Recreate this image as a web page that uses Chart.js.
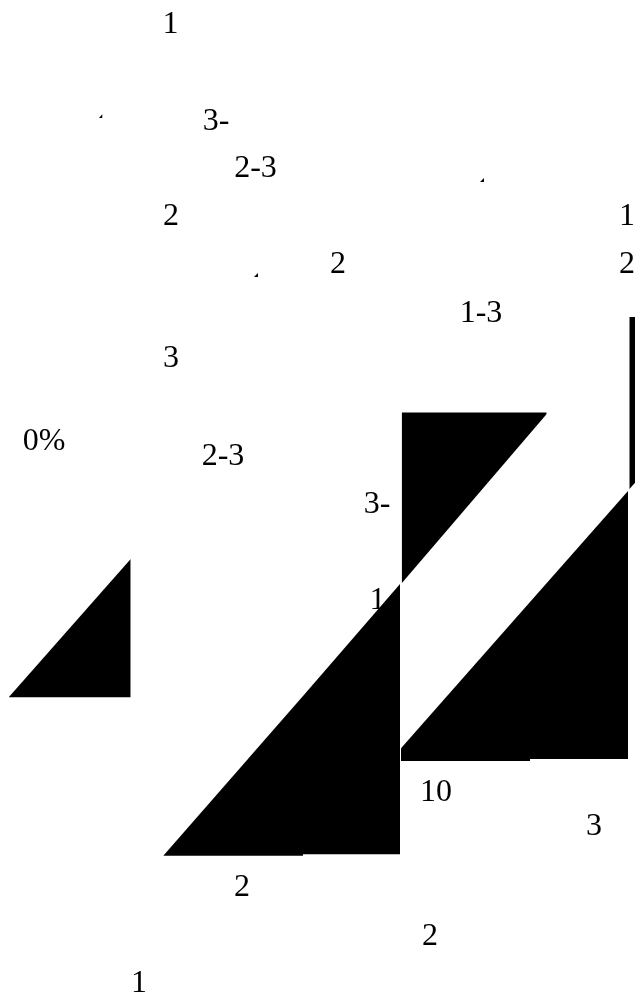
<!DOCTYPE html>
<html>
<head>
<meta charset="utf-8">
<script src="https://cdn.jsdelivr.net/npm/chart.js@4"></script>
<style>
  html, body { margin: 0; padding: 0; background: #ffffff; }
  canvas { display: block; }
</style>
</head>
<body>
<canvas id="c" width="635" height="1003"></canvas>
<script>
// Filled wedges: a slanted edge from (x1,y1) to (x2,y2), filled to a level
const wedgeX1   = [8.7,   163.3, 303,   401.7, 401,   530,   629.3, 99,    480, 254];
const wedgeY1   = [697.3, 855.7, 696,   583.3, 748.3, 602,   489.3, 118,   182, 277];
const wedgeX2   = [130.7, 303,   400,   546.7, 530,   628,   700,   102.5, 484, 258];
const wedgeY2   = [559,   696,   584,   414,   602,   491,   409,   114,   178, 273];
const wedgeBase = [697.3, 855.7, 854.3, 412.5, 761,   759,   317,   118,   182, 277];

// Scattered text labels
const labelText = ["1", "3-", "2-3", "2", "1", "2", "2", "1-3", "3", "0%", "2-3", "3-", "1", "10", "3", "2", "2", "1"];
const labelX    = [170.5, 216, 255.5, 171, 627, 338, 627, 481, 171, 44, 223, 377, 377.6, 436, 594, 242, 430, 139];
const labelY    = [33, 130, 177, 225, 225, 273, 273, 322, 367, 450, 465, 513, 609, 801, 835, 896, 945, 992];

const datasets = wedgeX1.map((x1, i) => ({
  data: [{ x: x1, y: wedgeY1[i] }, { x: wedgeX2[i], y: wedgeY2[i] }],
  showLine: true,
  fill: { value: wedgeBase[i] },
  backgroundColor: '#000000',
  borderColor: '#000000',
  borderWidth: 0,
  pointRadius: 0,
  tension: 0
}));

const labelPlugin = {
  id: 'labels',
  afterDatasetsDraw(chart) {
    const ctx = chart.ctx;
    const xs = chart.scales.x, ys = chart.scales.y;
    ctx.save();
    ctx.font = '32px "Liberation Serif", "Times New Roman", serif';
    ctx.fillStyle = '#000000';
    ctx.textAlign = 'center';
    ctx.textBaseline = 'alphabetic';
    labelText.forEach((t, i) => {
      ctx.fillText(t, xs.getPixelForValue(labelX[i]), ys.getPixelForValue(labelY[i]));
    });
    ctx.restore();
  }
};

new Chart(document.getElementById('c'), {
  type: 'scatter',
  data: { datasets },
  options: {
    responsive: false,
    animation: false,
    devicePixelRatio: 1,
    layout: { padding: 0 },
    plugins: { legend: { display: false }, tooltip: { enabled: false } },
    scales: {
      x: { type: 'linear', min: 0, max: 635, display: false },
      y: { type: 'linear', min: 0, max: 1003, reverse: true, display: false }
    }
  },
  plugins: [labelPlugin]
});
</script>
</body>
</html>
